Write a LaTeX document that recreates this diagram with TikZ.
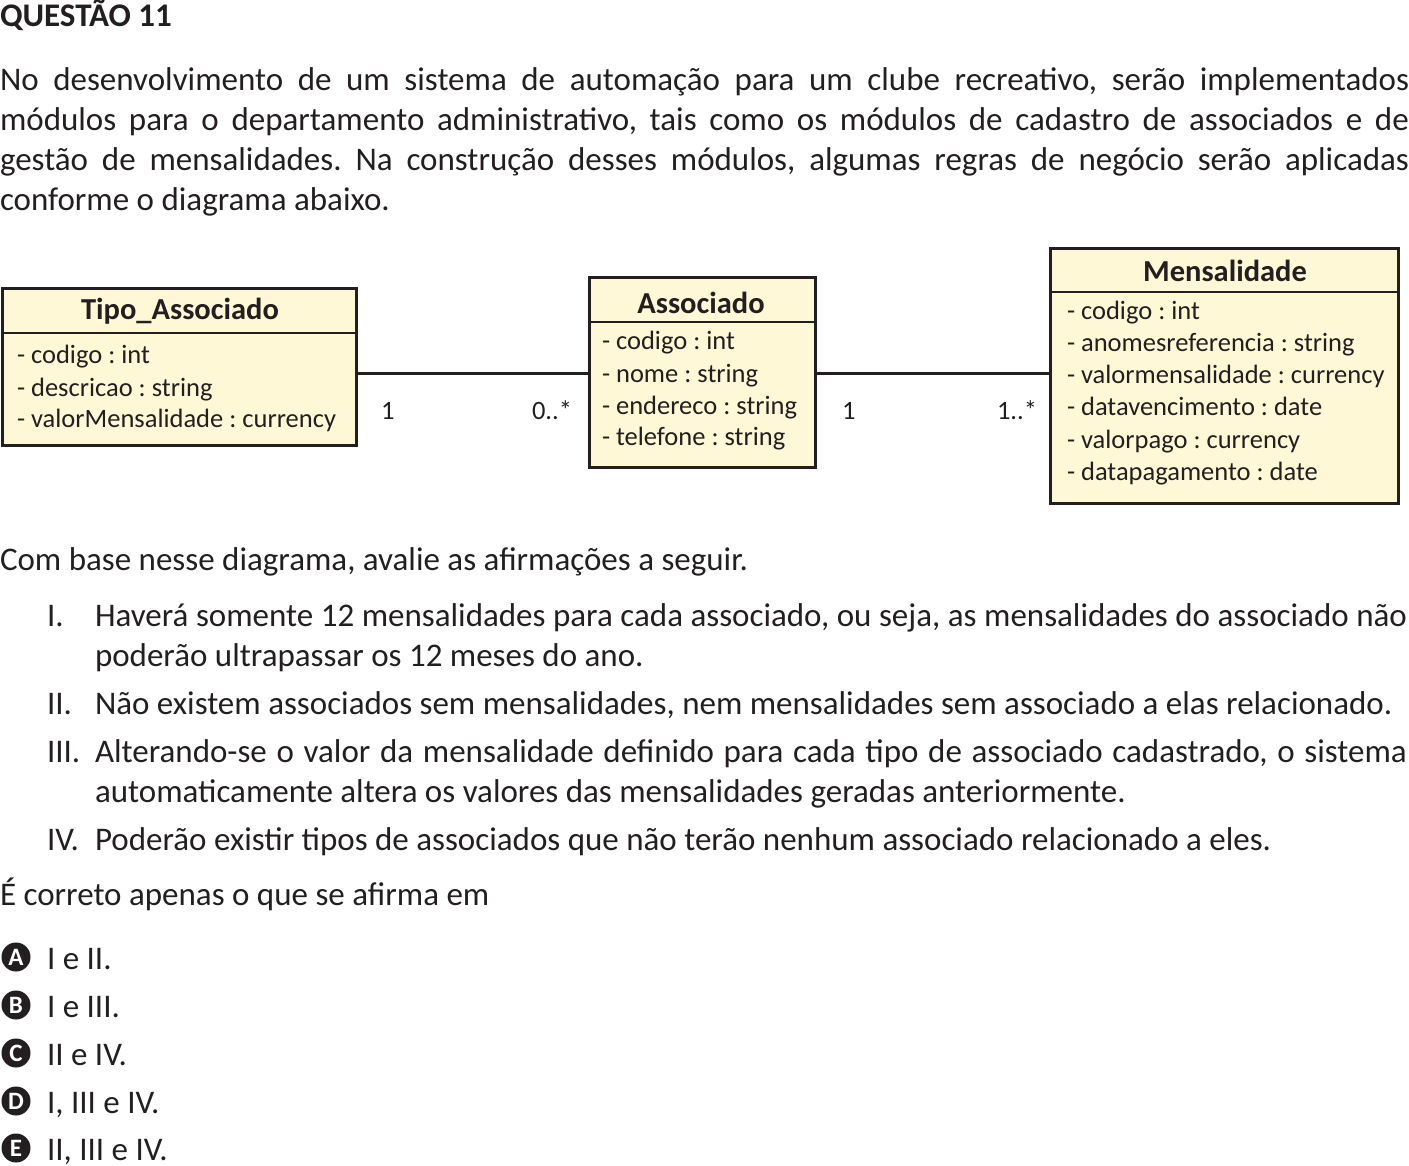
\documentclass[tikz,border=0pt]{standalone}
\usepackage{fontspec}
\setmainfont{Carlito}
\frenchspacing
\definecolor{ink}{HTML}{231F20}
\definecolor{umlfill}{HTML}{FFF8D6}
\begin{document}
\frenchspacing
\begin{tikzpicture}[x=1pt,y=-1pt,
  txt/.style={anchor=base west, inner sep=0, outer sep=0, text=ink, font=\fontsize{33}{40}\selectfont},
  qtitle/.style={anchor=base west, inner sep=0, outer sep=0, text=ink, font=\fontsize{33}{40}\selectfont\bfseries},
  attr/.style={anchor=base west, inner sep=0, outer sep=0, text=ink, font=\fontsize{26.5}{32}\selectfont},
  ctitle/.style={anchor=base, inner sep=0, outer sep=0, text=ink, font=\fontsize{30.5}{36}\selectfont\bfseries},
  umlbox/.style={draw=ink, line width=3pt, fill=umlfill, inner sep=0, outer sep=0},
  divider/.style={draw=ink, line width=1.5pt},
  assocline/.style={draw=ink, line width=3pt},
  optcirc/.style={circle, fill=ink, minimum size=29pt, inner sep=0, outer sep=0, text=white, font=\fontsize{25}{25}\selectfont\bfseries}
]
\useasboundingbox (0,0) rectangle (1409,1166);

% heading and intro
\node[qtitle] (head) at (0,27) {QUESTÃO 11};
\node[txt] (p1) at (0,91) {\makebox[1409pt][s]{No desenvolvimento de um sistema de automação para um clube recreativo, serão implementados}};
\node[txt] (p2) at (0,131) {\makebox[1409pt][s]{módulos para o departamento administrativo, tais como os módulos de cadastro de associados e de}};
\node[txt] (p3) at (0,171) {\makebox[1409pt][s]{gestão de mensalidades. Na construção desses módulos, algumas regras de negócio serão aplicadas}};
\node[txt] (p4) at (0,211) {conforme o diagrama abaixo.};

% UML classes
\node[umlbox, minimum width=354pt, minimum height=156pt] (tipo) at (179,367) {};
\draw[divider] (tipo.west |- 0,333) -- (tipo.east |- 0,333);
\node[ctitle] (tipoT) at (180,320) {Tipo\_Associado};
\node[attr] (t1) at (17,364) {- codigo : int};
\node[attr] (t2) at (17,396) {- descricao : string};
\node[attr] (t3) at (17,428) {- valorMensalidade : currency};

\node[umlbox, minimum width=226pt, minimum height=189pt] (assoc) at (702,372.5) {};
\draw[divider] (assoc.west |- 0,322) -- (assoc.east |- 0,322);
\node[ctitle] (assocT) at (701,314) {Associado};
\node[attr] (a1) at (602,350) {- codigo : int};
\node[attr] (a2) at (602,382) {- nome : string};
\node[attr] (a3) at (602,414) {- endereco : string};
\node[attr] (a4) at (602,446) {- telefone : string};

\node[umlbox, minimum width=348pt, minimum height=254pt] (mens) at (1224,376) {};
\draw[divider] (mens.west |- 0,292) -- (mens.east |- 0,292);
\node[ctitle] (mensT) at (1225,282) {Mensalidade};
\node[attr] (m1) at (1067,320) {- codigo : int};
\node[attr] (m2) at (1067,352) {- anomesreferencia : string};
\node[attr] (m3) at (1067,384) {- valormensalidade : currency};
\node[attr] (m4) at (1067,416) {- datavencimento : date};
\node[attr] (m5) at (1067,448) {- valorpago : currency};
\node[attr] (m6) at (1067,480) {- datapagamento : date};

% associations
\draw[assocline] (tipo.east |- 0,374) -- (assoc.west |- 0,374);
\draw[assocline] (assoc.east |- 0,374) -- (mens.west |- 0,374);
\node[attr] (l1) at (381,420) {1};
\node[attr] (l2) at (532,420) {0..*};
\node[attr] (l3) at (842,420) {1};
\node[attr] (l4) at (997,420) {1..*};

% statements
\node[txt] (q0) at (0,570) {Com base nesse diagrama, avalie as afirmações a seguir.};
\node[txt] (n1) at (47,626) {I.};
\node[txt] (s1a) at (95,626) {\makebox[1312pt][s]{Haverá somente 12 mensalidades para cada associado, ou seja, as mensalidades do associado não}};
\node[txt] (s1b) at (95,666) {poderão ultrapassar os 12 meses do ano.};
\node[txt] (n2) at (47,714) {II.};
\node[txt] (s2) at (95,714) {Não existem associados sem mensalidades, nem mensalidades sem associado a elas relacionado.};
\node[txt] (n3) at (47,762) {III.};
\node[txt] (s3a) at (95,762) {\makebox[1312pt][s]{Alterando-se o valor da mensalidade definido para cada tipo de associado cadastrado, o sistema}};
\node[txt] (s3b) at (95,802) {automaticamente altera os valores das mensalidades geradas anteriormente.};
\node[txt] (n4) at (47,850) {IV.};
\node[txt] (s4) at (95,850) {Poderão existir tipos de associados que não terão nenhum associado relacionado a eles.};
\node[txt] (q1) at (0,905) {É correto apenas o que se afirma em};

% options
\node[optcirc] (oA) at (16,957) {A};
\node[txt] (tA) at (47,969) {I e II.};
\node[optcirc] (oB) at (16,1005) {B};
\node[txt] (tB) at (47,1017) {I e III.};
\node[optcirc] (oC) at (16,1053) {C};
\node[txt] (tC) at (47,1065) {II e IV.};
\node[optcirc] (oD) at (16,1101) {D};
\node[txt] (tD) at (47,1113) {I, III e IV.};
\node[optcirc] (oE) at (16,1148) {E};
\node[txt] (tE) at (47,1160) {II, III e IV.};
\end{tikzpicture}
\end{document}
